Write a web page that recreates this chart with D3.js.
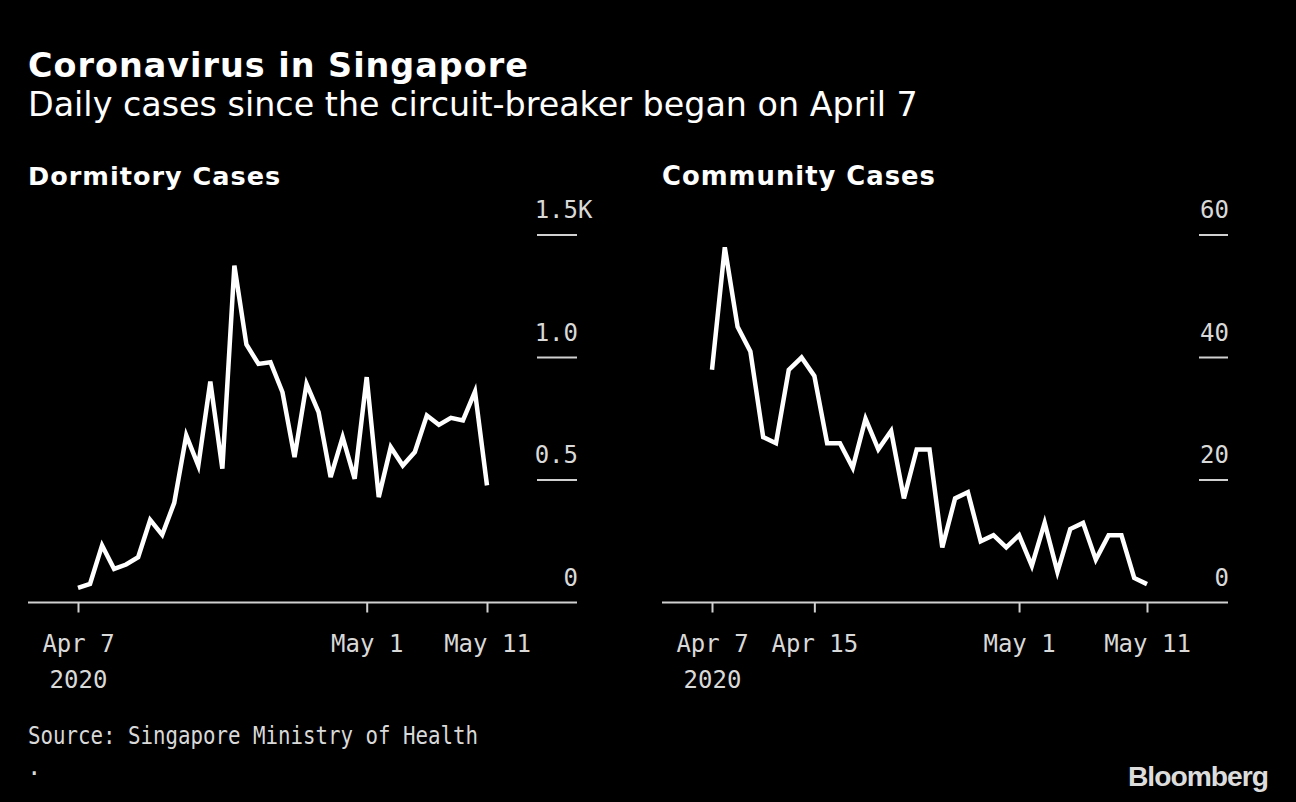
<!DOCTYPE html>
<html><head><meta charset="utf-8">
<script src="https://cdn.jsdelivr.net/npm/d3@7"></script>
<style>
html,body{margin:0;padding:0;background:#000;}
svg{display:block;}
</style></head>
<body>
<svg id="c" width="1296" height="802"></svg>
<script>
const dates = d3.timeDays(new Date(2020,3,7), new Date(2020,4,12));
const dormitoryCases = [60,76,233,137,155,185,337,276,407,682,559,902,546,1375,1053,974,981,858,593,892,777,512,675,505,920,430,634,559,614,763,725,754,743,861,478];
const communityCases = [38,58,45,41,27,26,38,40,37,26,26,22,30,25,28,17,25,25,9,17,18,10,11,9,11,6,13,5,12,13,7,11,11,4,3];
const dormTicksY = [0,500,1000,1500];
const commTicksY = [0,20,40,60];
const dormTicksX = [new Date(2020,3,7), new Date(2020,4,1), new Date(2020,4,11)];
const commTicksX = [new Date(2020,3,7), new Date(2020,3,15), new Date(2020,4,1), new Date(2020,4,11)];

const svg = d3.select("#c");
svg.append("rect").attr("width",1296).attr("height",802).attr("fill","#000");

const mono = "'DejaVu Sans Mono', monospace";
const sans = "'DejaVu Sans', Verdana, sans-serif";
const lblColor = "#d9d9d9";

function fitWidth(sel, target){
  const w = sel.node().getComputedTextLength();
  const fs = parseFloat(sel.attr("font-size"));
  sel.attr("font-size", fs*target/w);
}

const t = svg.append("text").attr("x",28).attr("y",77).attr("fill","#fff")
  .attr("font-family",sans).attr("font-weight","bold").attr("font-size",32)
  .attr("letter-spacing",1).text("Coronavirus in Singapore");
fitWidth(t, 502);
const st = svg.append("text").attr("x",28).attr("y",116).attr("fill","#fff")
  .attr("font-family",sans).attr("font-size",28)
  .text("Daily cases since the circuit-breaker began on April 7");
fitWidth(st, 890);

function panel(opts){
  const {title, titleX, titleW, values, yTicks, yMax, xTicks, x0, x1, axisL, axisR, gridL, gridR, fmt, suffix} = opts;
  const g = svg.append("g");
  const pt = g.append("text").attr("x",titleX).attr("y",185).attr("fill","#fff")
    .attr("font-family",sans).attr("font-weight","bold").attr("font-size",23)
    .attr("letter-spacing",1).text(title);
  fitWidth(pt, titleW);

  const x = d3.scaleTime().domain([dates[0], dates[dates.length-1]]).range([x0, x1]);
  const y = d3.scaleLinear().domain([0, yMax]).range([602.5, 235]);

  yTicks.forEach((v,i) => {
    if (v !== 0) {
      g.append("line").attr("x1",gridL).attr("x2",gridR).attr("y1",y(v)).attr("y2",y(v))
        .attr("stroke","#d0d0d0").attr("stroke-width",2);
    }
    g.append("text").attr("x",gridR+1).attr("y",y(v)-17).attr("text-anchor","end")
      .attr("fill",lblColor).attr("font-family",mono).attr("font-size",24)
      .text(fmt(v));
    if (i === yTicks.length-1 && suffix) {
      g.append("text").attr("x",gridR+1).attr("y",y(v)-17).attr("text-anchor","start")
        .attr("fill",lblColor).attr("font-family",mono).attr("font-size",24).text(suffix);
    }
  });

  g.append("line").attr("x1",axisL).attr("x2",axisR).attr("y1",602.5).attr("y2",602.5)
    .attr("stroke","#d0d0d0").attr("stroke-width",2);
  const ax = d3.axisBottom(x).tickValues(xTicks).tickSize(10).tickSizeOuter(0)
    .tickFormat(d => d3.timeFormat("%b %-d")(d));
  const axg = g.append("g").attr("transform","translate(0,602.5)").call(ax);
  axg.select(".domain").remove();
  axg.selectAll(".tick line").attr("stroke","#d0d0d0").attr("stroke-width",2);
  axg.selectAll(".tick text").attr("fill",lblColor).attr("font-family",mono)
    .attr("font-size",24).attr("y",49).attr("dy",0);
  axg.selectAll(".tick").filter((d,i)=>i===0).append("text")
    .attr("fill",lblColor).attr("font-family",mono).attr("font-size",24)
    .attr("text-anchor","middle").attr("y",85).text("2020");

  const line = d3.line().x((d,i)=>x(dates[i])).y(d=>y(d));
  g.append("path").datum(values).attr("d",line).attr("fill","none")
    .attr("stroke","#fff").attr("stroke-width",4.5).attr("stroke-linejoin","miter")
    .attr("stroke-miterlimit",4);
}

panel({title:"Dormitory Cases", titleX:28, titleW:255, values:dormitoryCases,
  yTicks:dormTicksY, yMax:1500, xTicks:dormTicksX, x0:78, x1:487,
  axisL:28, axisR:577, gridL:537, gridR:577,
  fmt:v=> v===0 ? "0" : (v/1000).toFixed(1), suffix:"K"});
panel({title:"Community Cases", titleX:662, titleW:276, values:communityCases,
  yTicks:commTicksY, yMax:60, xTicks:commTicksX, x0:712, x1:1147,
  axisL:662, axisR:1228, gridL:1199, gridR:1228,
  fmt:v=> String(v), suffix:null});

svg.append("text").attr("x",28).attr("y",744).attr("fill",lblColor)
  .attr("font-family",mono).attr("font-size",24)
  .attr("textLength",450).attr("lengthAdjust","spacingAndGlyphs")
  .text("Source: Singapore Ministry of Health");
svg.append("text").attr("x",27).attr("y",775).attr("fill",lblColor)
  .attr("font-family",mono).attr("font-size",24).text(".");
const bb = svg.append("text").attr("x",1268).attr("y",786).attr("text-anchor","end")
  .attr("fill","#dcdcdc").attr("font-family","'Liberation Sans', Arial, sans-serif")
  .attr("font-weight","bold").attr("font-size",28).attr("letter-spacing",-1).text("Bloomberg");
fitWidth(bb, 140);
</script>
</body></html>
